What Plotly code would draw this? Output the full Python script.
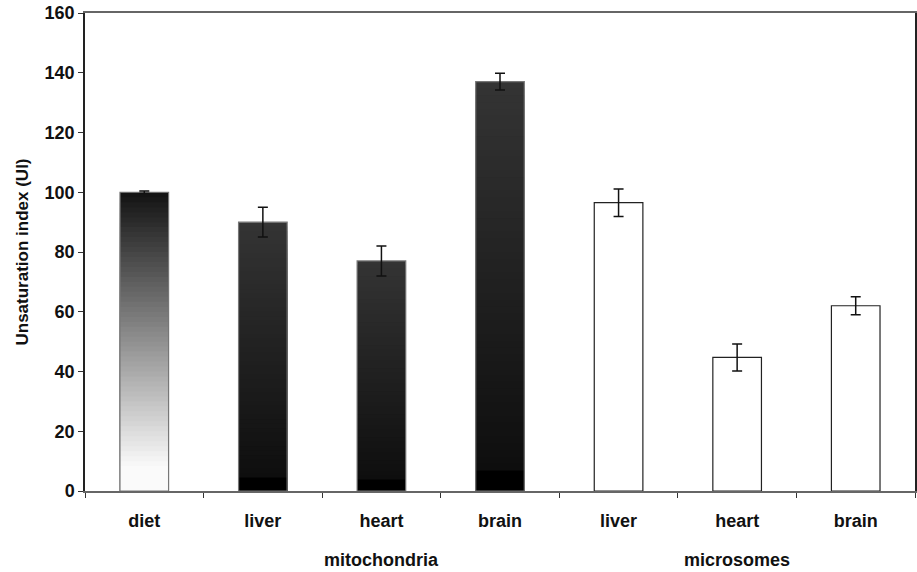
import plotly.graph_objects as go

# ---- data ----
labels = ["diet", "liver", "heart", "brain", "liver", "heart", "brain"]
groups = ["", "mitochondria", "mitochondria", "mitochondria", "microsomes", "microsomes", "microsomes"]
values = [100, 90, 77, 137, 96.5, 44.7, 62]
errors = [0.4, 5, 5, 2.8, 4.6, 4.5, 3]
styles = ["diet", "mito", "mito", "mito", "micro", "micro", "micro"]
group_labels = ["mitochondria", "microsomes"]
group_centers = [2, 5]
yticks = [0, 20, 40, 60, 80, 100, 120, 140, 160]

x = list(range(len(labels)))
BW = 0.41
FONT = "Liberation Sans, Arial, sans-serif"

def grad_color(style, f):
    # f: 0 at bottom, 1 at top
    if style == "diet":
        if f < 0.08:
            v = 250
        else:
            v = 250 - 232 * (f - 0.08) / 0.92
    else:
        if f < 0.05:
            v = 0
        else:
            v = 14 + 38 * (f - 0.05) / 0.95
    v = int(round(v))
    return f"rgb({v},{v},{v})"

fig = go.Figure()

N = 60
gidx = [i for i, s in enumerate(styles) if s != "micro"]
for k in range(N - 1, -1, -1):
    f = (k + 0.5) / N
    cols = [grad_color(styles[i], f) for i in gidx]
    fig.add_trace(go.Bar(
        x=[x[i] for i in gidx],
        y=[values[i] * (k + 1) / N for i in gidx],
        width=BW,
        marker=dict(color=cols, line=dict(width=0)),
        showlegend=False, hoverinfo="skip",
    ))

fig.add_trace(go.Bar(
    x=x, y=values, width=BW,
    marker=dict(color=["rgba(0,0,0,0)" if s != "micro" else "white" for s in styles],
                line=dict(width=1.2, color=["#777" if s != "micro" else "#222" for s in styles])),
    error_y=dict(type="data", array=errors, visible=True, color="#111", thickness=1.5, width=5),
    showlegend=False,
))

# invisible trace for label axis
fig.add_trace(go.Scatter(x=x, y=values, xaxis="x2", mode="markers",
                         marker=dict(opacity=0), showlegend=False, hoverinfo="skip"))

for name, c in zip(group_labels, group_centers):
    fig.add_annotation(x=c, y=0, xref="x", yref="paper", text=f"<b>{name}</b>",
                       showarrow=False, yshift=-69, yanchor="middle",
                       font=dict(family=FONT, size=18, color="#111"))

fig.update_layout(
    width=917, height=572,
    margin=dict(l=85, r=2, t=13, b=81),
    barmode="overlay",
    plot_bgcolor="white", paper_bgcolor="white",
    font=dict(family=FONT, color="#111"),
    xaxis=dict(range=[-0.5, 6.5], tickvals=[i - 0.5 for i in range(len(labels) + 1)],
               ticktext=[""] * (len(labels) + 1), ticks="outside", ticklen=5, tickwidth=1.2,
               tickcolor="#333", showline=True, linecolor="#666", linewidth=1.5, mirror=True,
               showgrid=False, zeroline=False, automargin=False),
    xaxis2=dict(range=[-0.5, 6.5], overlaying="x", side="bottom", tickvals=x,
                ticktext=[f"<b>{l}</b>" for l in labels], ticks="outside", ticklen=13,
                tickcolor="rgba(0,0,0,0)", showline=False, showgrid=False, zeroline=False,
                automargin=False,
                tickfont=dict(family=FONT, size=18, color="#111")),
    yaxis=dict(range=[0, 160], tickvals=yticks, ticktext=[f"<b>{t}</b>" for t in yticks],
               ticks="outside", ticklen=5, tickwidth=1.2, tickcolor="#333",
               showline=True, linecolor="#222", linewidth=1.5, mirror=True,
               showgrid=False, zeroline=False, automargin=False,
               tickfont=dict(family=FONT, size=18, color="#111"),
               title=dict(text="<b>Unsaturation index (UI)</b>", standoff=12,
                          font=dict(family=FONT, size=17, color="#111"))),
)

fig.write_html("out.html", config={"displayModeBar": False},
               post_script="document.body.style.margin='0';document.body.style.padding='0';")
